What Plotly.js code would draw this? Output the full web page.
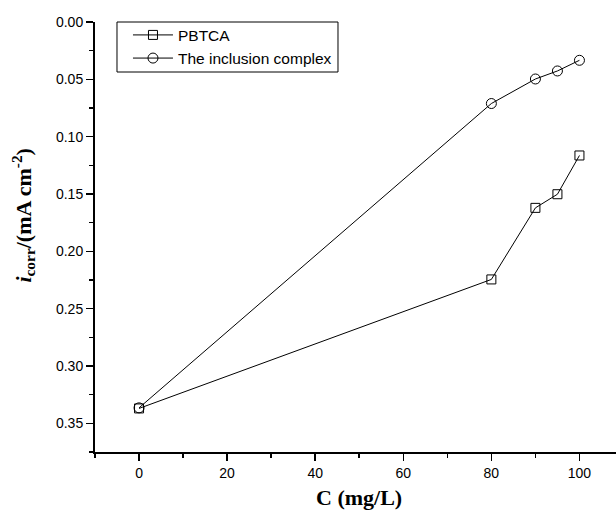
<!DOCTYPE html>
<html>
<head>
<meta charset="utf-8">
<script src="https://cdn.plot.ly/plotly-3.0.1.min.js"></script>
<style>html,body{margin:0;padding:0;background:#fff}#chart{width:616px;height:512px}</style>
</head>
<body>
<div id="chart"></div>
<script>
var concentrations = [0, 80, 90, 95, 100];
var pbtcaIcorr = [0.337, 0.2245, 0.1621, 0.1502, 0.1164];
var complexIcorr = [0.3365, 0.0711, 0.0497, 0.0427, 0.0334];
var seriesNames = ["PBTCA", "The inclusion complex"];
var xTickValues = [0, 20, 40, 60, 80, 100];
var yTickValues = [0.00, 0.05, 0.10, 0.15, 0.20, 0.25, 0.30, 0.35];

var traces = [
  {
    x: concentrations, y: pbtcaIcorr, name: seriesNames[0],
    type: 'scatter', mode: 'lines+markers',
    line: {color: '#000', width: 1},
    marker: {symbol: 'square-open', size: 9, color: '#000', line: {width: 1, color: '#000'}}
  },
  {
    x: concentrations, y: complexIcorr, name: seriesNames[1],
    type: 'scatter', mode: 'lines+markers',
    line: {color: '#000', width: 1},
    marker: {symbol: 'circle-open', size: 10, color: '#000', line: {width: 1, color: '#000'}}
  }
];

var axisFont = {family: 'Liberation Sans, Arial, sans-serif', size: 14, color: '#000'};

var layout = {
  width: 616, height: 512,
  margin: {l: 95, r: 0, t: 22, b: 60},
  paper_bgcolor: '#fff', plot_bgcolor: '#fff',
  showlegend: true,
  legend: {
    x: 0.0633, y: 1.0085, xanchor: 'left', yanchor: 'top',
    bgcolor: 'rgba(0,0,0,0)', borderwidth: 0, itemwidth: 40,
    font: {family: 'Liberation Sans, Arial, sans-serif', size: 15.5, color: '#000'},
    tracegroupgap: 0
  },
  shapes: [
    {type: 'rect', xref: 'paper', yref: 'paper', x0: 0.0422, x1: 0.4664, y0: 0.8837, y1: 1.0,
     line: {color: '#000', width: 1}, fillcolor: 'rgba(0,0,0,0)'}
  ],
  xaxis: {
    range: [-10, 108.3],
    tickvals: xTickValues, ticktext: xTickValues.map(String),
    ticks: 'outside', ticklen: 7, tickwidth: 1.5, tickcolor: '#000',
    showline: true, linewidth: 2, linecolor: '#000', mirror: false,
    showgrid: false, zeroline: false,
    tickfont: axisFont,
    minor: {tickvals: [-10, 10, 30, 50, 70, 90], ticks: 'outside', ticklen: 4, tickwidth: 1.5, tickcolor: '#000', showgrid: false}
  },
  yaxis: {
    range: [0.375, 0],
    tickvals: yTickValues, ticktext: yTickValues.map(function(v){return v.toFixed(2);}),
    ticks: 'outside', ticklen: 7, tickwidth: 1.5, tickcolor: '#000',
    showline: true, linewidth: 2, linecolor: '#000', mirror: false,
    showgrid: false, zeroline: false,
    tickfont: axisFont,
    minor: {tickvals: [0.025, 0.075, 0.125, 0.175, 0.225, 0.275, 0.325, 0.375], ticks: 'outside', ticklen: 4, tickwidth: 1.5, tickcolor: '#000', showgrid: false}
  },
  annotations: [
    {
      text: '<b>C (mg/L)</b>', xref: 'paper', yref: 'paper',
      x: 0.507, y: -0.105, xanchor: 'center', yanchor: 'middle', showarrow: false,
      font: {family: 'Liberation Serif, Times New Roman, serif', size: 22, color: '#000'}
    },
    {
      text: '<b><i>i</i><sub>corr</sub>/(mA cm<sup>-2</sup>)</b>', xref: 'paper', yref: 'paper',
      x: -0.138, y: 0.55, xanchor: 'center', yanchor: 'middle', showarrow: false, textangle: -90,
      font: {family: 'Liberation Serif, Times New Roman, serif', size: 22, color: '#000'}
    }
  ]
};

Plotly.newPlot('chart', traces, layout, {displayModeBar: false, staticPlot: true});
</script>
</body>
</html>
